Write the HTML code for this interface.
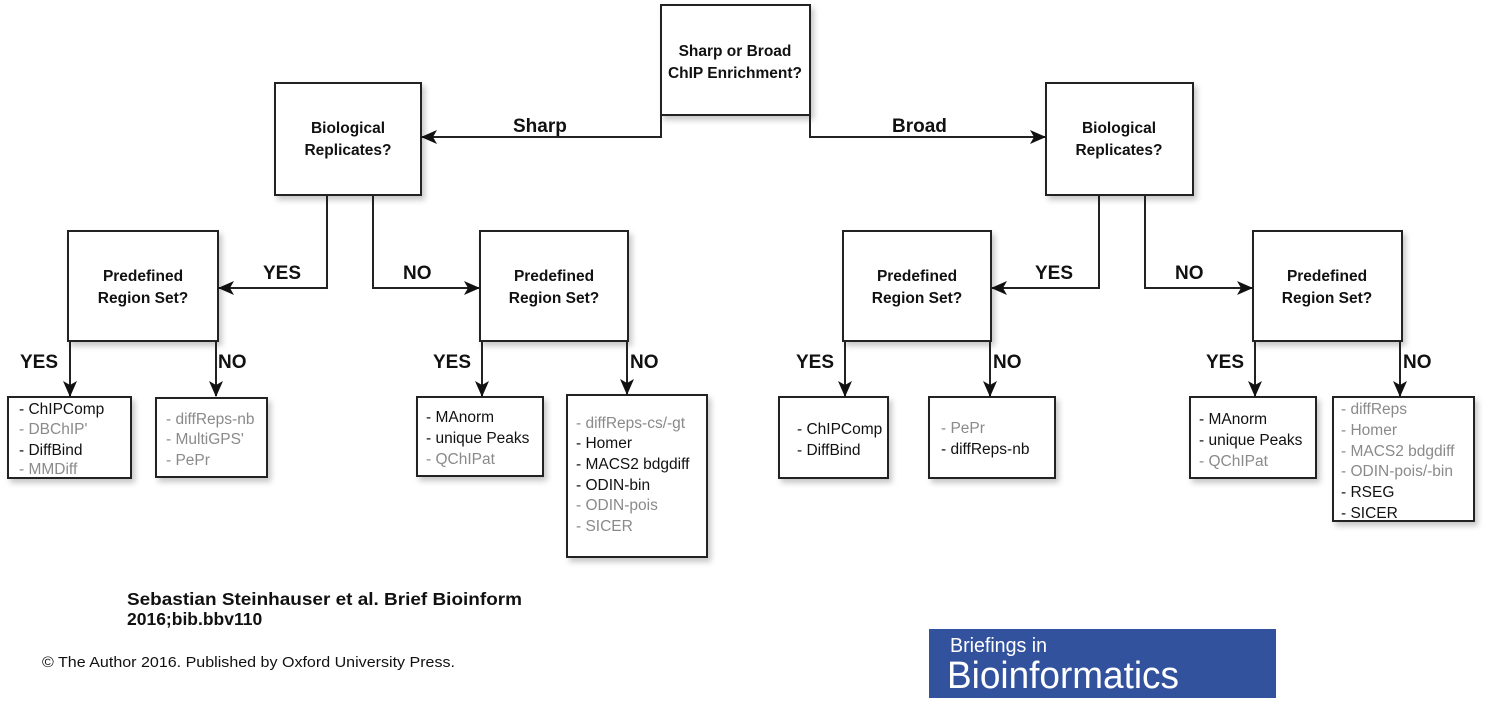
<!DOCTYPE html>
<html><head><meta charset="utf-8"><style>
html,body{margin:0;padding:0;background:#fff}
svg{display:block}
text{font-family:"Liberation Sans",Arial,sans-serif}
.q{font-weight:bold;font-size:15.5px;text-anchor:middle;fill:#111}
.l{font-weight:bold;font-size:19px;fill:#111}
.t{font-size:15.5px;fill:#111}
.g{fill:#8a8a8a}
</style></head><body>
<svg width="1488" height="708" viewBox="0 0 1488 708" xmlns="http://www.w3.org/2000/svg">
<defs>
<filter id="sh" x="-10%" y="-10%" width="130%" height="130%"><feDropShadow dx="3" dy="4" stdDeviation="3" flood-color="#000" flood-opacity="0.22"/></filter>
<marker id="ar" markerWidth="16" markerHeight="14" refX="15" refY="7" orient="auto" markerUnits="userSpaceOnUse"><path d="M0,0 L16,7 L0,14 L4,7 Z" fill="#111"/></marker>
</defs>
<g fill="#fff" stroke="#222" stroke-width="2" filter="url(#sh)">
<rect x="661" y="5" width="149" height="110"/>
<rect x="275" y="83" width="146" height="112"/>
<rect x="1046" y="83" width="147" height="112"/>
<rect x="68" y="231" width="150" height="110"/>
<rect x="480" y="231" width="148" height="110"/>
<rect x="843" y="231" width="148" height="110"/>
<rect x="1253" y="231" width="149" height="110"/>
<rect x="8" y="397" width="123" height="81"/>
<rect x="156" y="398" width="111" height="79"/>
<rect x="417" y="397" width="126" height="79"/>
<rect x="567" y="395" width="140" height="162"/>
<rect x="779" y="397" width="109" height="81"/>
<rect x="929" y="397" width="126" height="81"/>
<rect x="1190" y="397" width="126" height="81"/>
<rect x="1333" y="397" width="141" height="124"/>
</g>
<g fill="none" stroke="#222" stroke-width="2" marker-end="url(#ar)">
<path d="M661,115 V137 H422"/>
<path d="M810,115 V137 H1045"/>
<path d="M327,195 V288 H219"/>
<path d="M373,195 V288 H479"/>
<path d="M1099,195 V288 H992"/>
<path d="M1145,195 V288 H1252"/>
<path d="M70,341 V396"/><path d="M216,341 V396"/>
<path d="M482,341 V396"/><path d="M627,341 V394"/>
<path d="M845,341 V396"/><path d="M990,341 V396"/>
<path d="M1255,341 V396"/><path d="M1400,341 V396"/>
</g>
<text class="q" x="735" y="56">Sharp or Broad</text><text class="q" x="735" y="78">ChIP Enrichment?</text>
<text class="q" x="348" y="133">Biological</text><text class="q" x="348" y="155">Replicates?</text>
<text class="q" x="1119" y="133">Biological</text><text class="q" x="1119" y="155">Replicates?</text>
<text class="q" x="143" y="281">Predefined</text><text class="q" x="143" y="303">Region Set?</text>
<text class="q" x="554" y="281">Predefined</text><text class="q" x="554" y="303">Region Set?</text>
<text class="q" x="917" y="281">Predefined</text><text class="q" x="917" y="303">Region Set?</text>
<text class="q" x="1327" y="281">Predefined</text><text class="q" x="1327" y="303">Region Set?</text>
<text class="l" x="513" y="132">Sharp</text>
<text class="l" x="892" y="132">Broad</text>
<text class="l" x="263" y="279">YES</text><text class="l" x="403" y="279">NO</text>
<text class="l" x="1035" y="279">YES</text><text class="l" x="1175" y="279">NO</text>
<text class="l" x="20" y="368">YES</text><text class="l" x="218" y="368">NO</text>
<text class="l" x="433" y="368">YES</text><text class="l" x="630" y="368">NO</text>
<text class="l" x="796" y="368">YES</text><text class="l" x="993" y="368">NO</text>
<text class="l" x="1206" y="368">YES</text><text class="l" x="1403" y="368">NO</text>
<g class="t">
<text x="19" y="414">- ChIPComp</text><text x="19" y="434" class="t g">- DBChIP'</text><text x="19" y="455">- DiffBind</text><text x="19" y="474" class="t g">- MMDiff</text>
<text x="166" y="424" class="t g">- diffReps-nb</text><text x="166" y="444" class="t g">- MultiGPS'</text><text x="166" y="465" class="t g">- PePr</text>
<text x="426" y="422">- MAnorm</text><text x="426" y="443">- unique Peaks</text><text x="426" y="464" class="t g">- QChIPat</text>
<text x="576" y="428" class="t g">- diffReps-cs/-gt</text><text x="576" y="448">- Homer</text><text x="576" y="469">- MACS2 bdgdiff</text><text x="576" y="490">- ODIN-bin</text><text x="576" y="510" class="t g">- ODIN-pois</text><text x="576" y="531" class="t g">- SICER</text>
<text x="797" y="434">- ChIPComp</text><text x="797" y="455">- DiffBind</text>
<text x="941" y="433" class="t g">- PePr</text><text x="941" y="454">- diffReps-nb</text>
<text x="1199" y="424">- MAnorm</text><text x="1199" y="445">- unique Peaks</text><text x="1199" y="466" class="t g">- QChIPat</text>
<text x="1341" y="414" class="t g">- diffReps</text><text x="1341" y="435" class="t g">- Homer</text><text x="1341" y="456" class="t g">- MACS2 bdgdiff</text><text x="1341" y="476" class="t g">- ODIN-pois/-bin</text><text x="1341" y="497">- RSEG</text><text x="1341" y="518">- SICER</text>
</g>
<text x="127" y="605" font-weight="bold" font-size="17.5" fill="#111" textLength="395" lengthAdjust="spacingAndGlyphs">Sebastian Steinhauser et al. Brief Bioinform</text>
<text x="127" y="625" font-weight="bold" font-size="17.5" fill="#111">2016;bib.bbv110</text>
<text x="42" y="667" font-size="15" fill="#111" textLength="413" lengthAdjust="spacingAndGlyphs">© The Author 2016. Published by Oxford University Press.</text>
<rect x="929" y="629" width="347" height="69" fill="#33529e"/>
<text x="950" y="652" font-size="20" fill="#fff" textLength="97" lengthAdjust="spacingAndGlyphs">Briefings in</text>
<text x="947" y="688" font-size="38" fill="#fff" textLength="232" lengthAdjust="spacingAndGlyphs">Bioinformatics</text>
</svg>
</body></html>
